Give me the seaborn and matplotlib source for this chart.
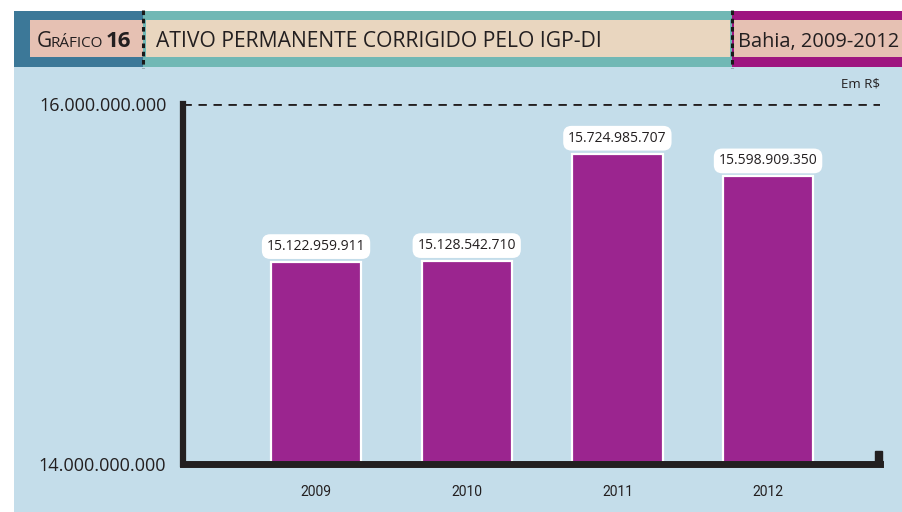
import matplotlib
matplotlib.use("Agg")
import matplotlib.pyplot as plt
from matplotlib.patches import Rectangle
import seaborn as sns
import pandas as pd

# ---- data ----
years = ["2009", "2010", "2011", "2012"]
values = [15122959911, 15128542710, 15724985707, 15598909350]
y_ticks = [14000000000, 16000000000]
title = "ATIVO PERMANENTE CORRIGIDO PELO IGP-DI"
subtitle = "Bahia, 2009-2012"
unit = "Em R$"

def fmt(v):
    return f"{v:,}".replace(",", ".")

sns.set_theme(style="white")
plt.rcParams['font.family'] = ['Open Sans', 'DejaVu Sans']

W, H = 902, 512
fig = plt.figure(figsize=(W / 100, H / 100), dpi=100)
fig.patch.set_facecolor("white")

def frect(x0, y0, x1, y1, color, z=-2):
    fig.patches.append(Rectangle((x0 / W, 1 - y1 / H), (x1 - x0) / W, (y1 - y0) / H,
                                 transform=fig.transFigure, color=color, zorder=z, lw=0))

BG = "#C4DDEA"
frect(14, 66, 902, 512, BG)
frect(14, 11, 143, 67, "#3C7898")
frect(143, 11, 732, 67, "#71B8B5")
frect(732, 11, 902, 67, "#9E1580")
frect(30, 20, 143, 57, "#E6C1B3", -1)
frect(146, 20, 730, 57, "#E9D6BF", -1)
frect(734, 20, 902, 57, "#E6C1B3", -1)

for xp in (143, 732):
    fig.add_artist(plt.Line2D([xp / W, xp / W], [1 - 10 / H, 1 - 68 / H],
                              transform=fig.transFigure, color="#1a1a1a", lw=2.2,
                              ls=(0, (1.5, 1.2)), zorder=3))

by = 1 - 47 / H
fig.text(37 / W, by, "G", fontsize=15, color="#231f20", va="baseline", zorder=4)
fig.text(50 / W, by, "RÁFICO", fontsize=11, color="#231f20", va="baseline", zorder=4)
fig.text(106 / W, by, "16", fontsize=16, fontweight="bold", color="#231f20", va="baseline", zorder=4)
fig.text(156 / W, by, title, fontsize=15.2, color="#231f20", va="baseline", zorder=4)
fig.text(738 / W, by, subtitle, fontsize=14.4, color="#231f20", va="baseline", zorder=4)

# ---- axes ----
ax_l, ax_r, ax_t, ax_b = 183, 880, 104, 464
ax = fig.add_axes([ax_l / W, 1 - ax_b / H, (ax_r - ax_l) / W, (ax_b - ax_t) / H])
ax.set_facecolor("none")

df = pd.DataFrame({"ano": years, "valor": values})
sns.barplot(data=df, x="ano", y="valor", color="#9B258F", saturation=1,
            edgecolor="white", linewidth=1.6, width=0.6, ax=ax, zorder=2)

ax.set_ylim(y_ticks[0], y_ticks[1])
ax.set_xlim(-0.883, 3.743)
ax.set_xlabel("")
ax.set_ylabel("")
ax.set_yticks(y_ticks)
ax.set_yticklabels([fmt(v) for v in y_ticks], fontsize=13, color="#231f20")
ax.set_xticks(range(len(years)))
ax.set_xticklabels(years, fontsize=10, color="#231f20",
                   family=['Liberation Sans Narrow', 'Roboto', 'DejaVu Sans'])
ax.tick_params(axis="y", length=0, pad=12)
ax.tick_params(axis="x", length=0, pad=15)

for s in ("top", "right"):
    ax.spines[s].set_visible(False)
ax.spines["left"].set_linewidth(4.5)
ax.spines["bottom"].set_linewidth(5)
ax.spines["left"].set_color("#231f20")
ax.spines["bottom"].set_color("#231f20")
ax.spines["left"].set_capstyle("projecting")
ax.spines["bottom"].set_capstyle("projecting")
ax.spines["bottom"].set_zorder(5)

ax.axhline(y_ticks[1], color="#231f20", lw=2, ls=(0, (3, 2.4)), zorder=1)

ax.add_patch(Rectangle((0.993, 0.005), 0.01, 0.03, transform=ax.transAxes,
                       color="#231f20", clip_on=False, zorder=5))

for i, v in enumerate(values):
    ax.annotate(fmt(v), (i, v), xytext=(0, 11), textcoords="offset points",
                ha="center", va="center", fontsize=10, color="#231f20",
                bbox=dict(boxstyle="round,pad=0.35,rounding_size=0.6",
                          fc="white", ec="none"), zorder=6)

ax.text(1.0, 1.055, unit, transform=ax.transAxes, ha="right", va="center",
        fontsize=9.5, color="#231f20")

fig.savefig("out.png", dpi=100, facecolor=fig.get_facecolor())
